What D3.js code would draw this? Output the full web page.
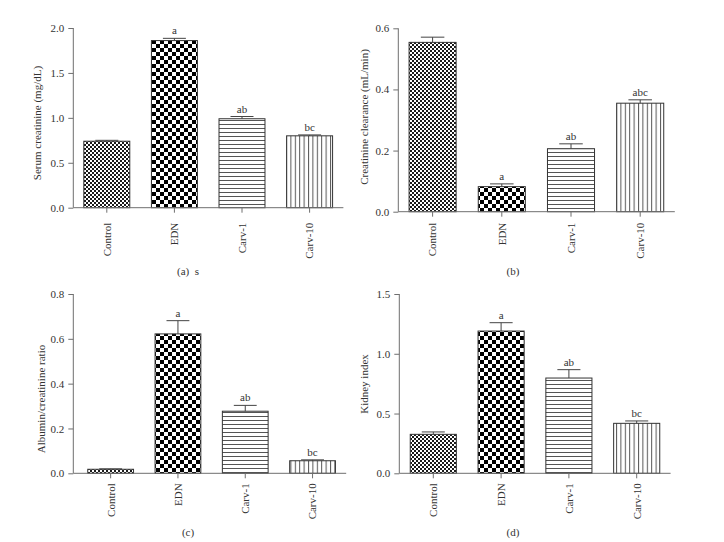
<!DOCTYPE html>
<html><head><meta charset="utf-8">
<script src="https://cdn.jsdelivr.net/npm/d3@7"></script>
<style>body{margin:0;background:#fff}svg{display:block}</style>
</head><body>
<svg id="c" width="724" height="542"></svg>
<script>
// ---- data ----
const categories = ["Control", "EDN", "Carv-1", "Carv-10"];

const serumValues = [0.74, 1.86, 0.99, 0.80];
const serumErrors = [0.01, 0.025, 0.025, 0.01];
const serumLetters = ["", "a", "ab", "bc"];
const serumTicks = [0.0, 0.5, 1.0, 1.5, 2.0];

const clearanceValues = [0.554, 0.082, 0.206, 0.355];
const clearanceErrors = [0.017, 0.009, 0.016, 0.011];
const clearanceLetters = ["", "a", "ab", "abc"];
const clearanceTicks = [0.0, 0.2, 0.4, 0.6];

const albuminValues = [0.018, 0.622, 0.277, 0.056];
const albuminErrors = [0.002, 0.059, 0.026, 0.004];
const albuminLetters = ["", "a", "ab", "bc"];
const albuminTicks = [0.0, 0.2, 0.4, 0.6, 0.8];

const kidneyValues = [0.326, 1.19, 0.797, 0.418];
const kidneyErrors = [0.02, 0.07, 0.07, 0.02];
const kidneyLetters = ["", "a", "ab", "bc"];
const kidneyTicks = [0.0, 0.5, 1.0, 1.5];

// ---- layout ----
const panels = [
  {id:"a", values:serumValues, errors:serumErrors, letters:serumLetters, ticks:serumTicks,
   ymax:2.0, title:"Serum creatinine (mg/dL)", caption:"(a)  s",
   axisX:73.3, x0:73, step:67.6, base:207.7, top:28, titleX:37, titleY:123, labOff:15, capX:188, capY:275},
  {id:"b", values:clearanceValues, errors:clearanceErrors, letters:clearanceLetters, ticks:clearanceTicks,
   ymax:0.6, title:"Creatinine clearance (mL/min)", caption:"(b)",
   axisX:398.3, x0:398, step:69.2, base:211.7, top:28.3, titleX:364, titleY:117, labOff:11, capX:513, capY:275},
  {id:"c", values:albuminValues, errors:albuminErrors, letters:albuminLetters, ticks:albuminTicks,
   ymax:0.8, title:"Albumin/creatinine ratio", caption:"(c)",
   axisX:73.3, x0:77, step:67.3, base:473.3, top:294, titleX:41, titleY:399, labOff:10, capX:188, capY:536},
  {id:"d", values:kidneyValues, errors:kidneyErrors, letters:kidneyLetters, ticks:kidneyTicks,
   ymax:1.5, title:"Kidney index", caption:"(d)",
   axisX:399.3, x0:399.4, step:67.8, base:473.3, top:294, titleX:364, titleY:384, labOff:10, capX:513, capY:536}
];

const svg = d3.select("#c");
const FONT = "'Liberation Serif','Times New Roman',serif";
const TXT = "#333";
const AX = "#6f6f6f";

// ---- patterns ----
const defs = svg.append("defs");
// fine checker (Control)
let p = defs.append("pattern").attr("id","pCtrl").attr("patternUnits","userSpaceOnUse").attr("width",4).attr("height",4);
p.append("rect").attr("width",4).attr("height",4).attr("fill","#fff");
p.append("rect").attr("width",2).attr("height",2).attr("fill","#1a1a1a");
p.append("rect").attr("x",2).attr("y",2).attr("width",2).attr("height",2).attr("fill","#1a1a1a");
// coarse checker (EDN)
p = defs.append("pattern").attr("id","pEdn").attr("patternUnits","userSpaceOnUse").attr("width",8).attr("height",8);
p.append("rect").attr("width",8).attr("height",8).attr("fill","#fff");
p.append("rect").attr("width",4).attr("height",4).attr("fill","#000");
p.append("rect").attr("x",4).attr("y",4).attr("width",4).attr("height",4).attr("fill","#000");
// horizontal lines (Carv-1)
p = defs.append("pattern").attr("id","pH").attr("patternUnits","userSpaceOnUse").attr("width",4).attr("height",4);
p.append("rect").attr("width",4).attr("height",4).attr("fill","#fff");
p.append("rect").attr("y",0).attr("width",4).attr("height",1).attr("fill","#555");
// vertical lines (Carv-10)
p = defs.append("pattern").attr("id","pV").attr("patternUnits","userSpaceOnUse").attr("width",4.4).attr("height",4);
p.append("rect").attr("width",4.4).attr("height",4).attr("fill","#fff");
p.append("rect").attr("x",0).attr("width",1).attr("height",4).attr("fill","#555");
const fills = ["url(#pCtrl)","url(#pEdn)","url(#pH)","url(#pV)"];

panels.forEach(P => {
  const g = svg.append("g");
  const x = d3.scaleBand().domain(categories).range([P.x0, P.x0 + 4*P.step]).paddingInner(0.32).paddingOuter(0.16);
  const y = d3.scaleLinear().domain([0, P.ymax]).range([P.base, P.top]);

  // bars
  g.selectAll("rect.bar").data(categories).join("rect")
    .attr("x", d => x(d)).attr("width", x.bandwidth())
    .attr("y", (d,i) => y(P.values[i])).attr("height", (d,i) => P.base - y(P.values[i]))
    .attr("fill", (d,i) => fills[i]).attr("stroke", "#333").attr("stroke-width", 1);

  // error bars
  const cw = x.bandwidth()/2;
  categories.forEach((c,i) => {
    const cx = x(c) + x.bandwidth()/2;
    const yt = y(P.values[i] + P.errors[i]);
    g.append("line").attr("x1",cx).attr("x2",cx).attr("y1",y(P.values[i])).attr("y2",yt).attr("stroke","#444");
    g.append("line").attr("x1",cx-cw/2).attr("x2",cx+cw/2).attr("y1",yt).attr("y2",yt).attr("stroke","#444");
    if (P.letters[i]) {
      g.append("text").attr("x",cx).attr("y",yt-4).attr("text-anchor","middle")
        .attr("font-family",FONT).attr("font-size",11).attr("fill",TXT).text(P.letters[i]);
    }
  });

  // y axis
  const ya = g.append("g").attr("transform",`translate(${P.axisX},0)`)
    .call(d3.axisLeft(y).tickValues(P.ticks).tickFormat(d3.format(".1f")).tickSize(5).tickPadding(4));
  ya.select(".domain").attr("stroke",AX).attr("d",`M0,${P.base}V${P.top}`);
  ya.selectAll(".tick line").attr("stroke",AX);
  ya.selectAll("text").attr("font-family",FONT).attr("font-size",11).attr("fill",TXT);

  // x axis
  const xa = g.append("g").attr("transform",`translate(0,${P.base})`)
    .call(d3.axisBottom(x).tickSize(5).tickFormat(""));
  xa.select(".domain").attr("stroke",AX).attr("d",`M${P.axisX},0H${P.x0 + 4*P.step}`);
  xa.selectAll(".tick line").attr("stroke",AX);

  // category labels
  g.selectAll("text.cat").data(categories).join("text").attr("class","cat")
    .attr("transform", d => `translate(${x(d)+x.bandwidth()/2},${P.base+P.labOff}) rotate(-90)`)
    .attr("text-anchor","end").attr("dy","0.35em")
    .attr("font-family",FONT).attr("font-size",11).attr("fill",TXT).text(d => d);

  // y title
  g.append("text").attr("transform",`translate(${P.titleX},${P.titleY}) rotate(-90)`)
    .attr("text-anchor","middle").attr("dy","0.35em")
    .attr("font-family",FONT).attr("font-size",11).attr("fill",TXT).text(P.title);

  // caption
  g.append("text").attr("x",P.capX).attr("y",P.capY).attr("text-anchor","middle")
    .attr("font-family",FONT).attr("font-size",11).attr("fill",TXT).attr("xml:space","preserve").text(P.caption);
});
</script>
</body></html>
